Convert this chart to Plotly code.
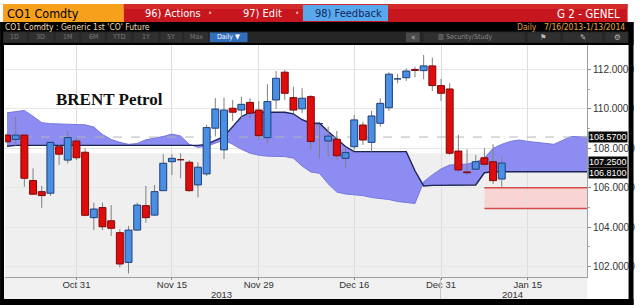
import plotly.graph_objects as go

# ---------------- data ----------------
dates = [
    "2013-10-21", "2013-10-22", "2013-10-23", "2013-10-24", "2013-10-25", "2013-10-28", "2013-10-29",
    "2013-10-30", "2013-10-31", "2013-11-01", "2013-11-04", "2013-11-05", "2013-11-06", "2013-11-07",
    "2013-11-08", "2013-11-11", "2013-11-12", "2013-11-13", "2013-11-14", "2013-11-15", "2013-11-18",
    "2013-11-19", "2013-11-20", "2013-11-21", "2013-11-22", "2013-11-25", "2013-11-26", "2013-11-27",
    "2013-11-28", "2013-11-29", "2013-12-02", "2013-12-03", "2013-12-04", "2013-12-05", "2013-12-06",
    "2013-12-09", "2013-12-10", "2013-12-11", "2013-12-12", "2013-12-13", "2013-12-16", "2013-12-17",
    "2013-12-18", "2013-12-19", "2013-12-20", "2013-12-23", "2013-12-24", "2013-12-26", "2013-12-27",
    "2013-12-30", "2013-12-31", "2014-01-02", "2014-01-03", "2014-01-06", "2014-01-07", "2014-01-08",
    "2014-01-09", "2014-01-10",
    # projected cloud periods
    "2014-01-13", "2014-01-14", "2014-01-15", "2014-01-16", "2014-01-17", "2014-01-20", "2014-01-21",
    "2014-01-22", "2014-01-23", "2014-01-24",
]
n_candles = 58

opens = [108.67, 108.45, 108.67, 106.36, 105.80, 105.72, 108.08, 107.40, 108.37, 107.80,
         104.48, 104.99, 104.32, 103.72, 102.21, 103.85, 105.09, 104.61, 105.85, 107.32,
         107.45, 107.29, 106.14, 106.70, 109.02, 107.92, 110.03, 109.94, 110.33, 109.94,
         108.54, 110.45, 111.86, 110.57, 110.00, 110.62, 109.25, 108.37, 108.46, 107.49,
         108.08, 109.18, 108.30, 109.27, 110.06, 111.52, 111.58, 112.00, 111.94, 112.18,
         111.18, 111.01, 107.86, 106.80, 106.94, 107.52, 107.32, 106.44]
highs = [108.75, 109.60, 108.72, 106.98, 106.09, 108.37, 108.20, 108.88, 108.54, 108.00,
         105.24, 105.24, 105.12, 103.89, 104.06, 105.24, 106.09, 106.14, 107.70, 107.70,
         107.75, 107.40, 107.30, 109.20, 110.55, 110.57, 110.45, 110.62, 110.54, 110.40,
         111.25, 111.92, 111.97, 111.13, 111.05, 110.70, 109.35, 109.10, 108.88, 108.00,
         109.69, 109.35, 109.90, 110.54, 111.86, 111.77, 112.06, 112.14, 112.74, 112.60,
         111.52, 111.30, 108.68, 107.95, 107.66, 108.00, 108.20, 107.57]
lows = [108.25, 108.10, 106.05, 105.63, 104.98, 105.58, 107.15, 107.24, 107.40, 104.55,
        103.85, 103.85, 103.55, 101.96, 101.65, 103.82, 104.22, 104.56, 105.85, 106.64,
        106.48, 105.80, 105.51, 106.60, 108.60, 107.46, 109.38, 109.52, 109.52, 108.42,
        108.25, 110.00, 110.45, 109.78, 109.78, 107.92, 107.49, 107.57, 107.41, 106.98,
        107.92, 108.17, 107.83, 109.10, 109.90, 111.30, 111.42, 111.60, 111.50, 110.90,
        110.40, 107.66, 106.81, 106.64, 106.90, 107.07, 106.19, 106.05]
closes = [108.33, 108.67, 106.48, 105.67, 105.60, 108.30, 107.70, 108.54, 107.52, 104.60,
          104.92, 104.02, 103.94, 102.13, 103.85, 105.12, 104.48, 105.80, 107.24, 107.49,
          107.42, 105.85, 107.04, 109.05, 109.99, 109.94, 109.83, 110.23, 109.78, 108.64,
          110.37, 111.55, 110.79, 109.94, 110.54, 108.34, 109.25, 108.62, 107.62, 107.78,
          109.44, 108.42, 109.64, 110.28, 111.76, 111.55, 111.92, 111.95, 112.18, 111.18,
          110.79, 107.75, 106.90, 106.76, 107.32, 107.19, 106.36, 107.25]

# Ichimoku cloud spans (projected forward)
span_a = [109.80, 109.85, 109.92, 109.62, 109.30, 109.25, 109.23, 109.22, 109.20, 109.19,
          109.08, 108.70, 108.45, 108.30, 108.20, 108.24, 108.43, 108.50, 108.60, 108.72,
          108.62, 108.20, 108.05, 108.10, 108.28, 108.42, 108.20, 107.95, 107.75, 107.65,
          107.60, 107.60, 107.58, 107.50, 107.10, 106.80, 106.73, 106.20, 105.78, 105.68,
          105.64, 105.60, 105.50, 105.45, 105.40, 105.30, 105.25, 105.20, 106.30, 106.65,
          106.95, 107.15, 107.18, 107.20, 107.30, 107.50, 108.00, 108.20, 108.35, 108.42,
          108.35, 108.30, 108.25, 108.20, 108.40, 108.60, 108.58, 108.57]
span_b = [108.10, 108.15, 108.15, 108.15, 108.15, 108.15, 108.15, 108.15, 108.15, 108.15,
          108.15, 108.15, 108.15, 108.15, 108.15, 108.15, 108.15, 108.15, 108.15, 108.15,
          108.15, 108.15, 108.15, 108.20, 108.40, 108.60, 109.10, 109.60, 109.83, 109.83,
          109.83, 109.83, 109.83, 109.75, 109.45, 109.27, 109.27, 108.85, 108.47, 108.09,
          107.83, 107.83, 107.83, 107.83, 107.83, 107.83, 107.83, 106.86, 106.09, 106.12,
          106.12, 106.12, 106.12, 106.13, 106.14, 106.76, 106.81, 106.81, 106.81, 106.81,
          106.81, 106.81, 106.81, 106.81, 106.81, 106.81, 106.81, 106.81]

x_tick_dates = ["2013-10-31", "2013-11-15", "2013-11-29", "2013-12-16", "2013-12-31", "2014-01-15"]
x_tick_text = ["Oct 31", "Nov 15", "Nov 29", "Dec 16", "Dec 31", "Jan 15"]
y_ticks = [102, 104, 106, 108, 110, 112]
y_tick_text = ["102.0000", "104.0000", "106.0000", "108.0000", "110.0000", "112.0000"]
y_minor = [103, 105, 107, 109, 111]
year_labels = ["2013", "2014"]

ref_level = 108.57
tag_values = [108.57, 107.25, 106.81]
tag_text = ["108.5700", "107.2500", "106.8100"]
zone_top, zone_bottom = 106.00, 104.95
zone_start = "2014-01-08"
shade_level = 107.75

# ---------------- geometry ----------------
W, H = 640, 305
L, R, T, B = 5, 593, 45, 277
X_RANGE = [-0.23, 66.82]
Y_RANGE = [101.47, 113.24]
HALF = 0.4  # half body width in trading-day units


def px(x):
    return (x - L) / (R - L)


def py(y):
    return (B - y) / (B - T)


COND = "DejaVu Sans Condensed, Liberation Sans Narrow, Arial Narrow, sans-serif"
SANS = "Liberation Sans, Arial, sans-serif"

# trading-day position of every date (weekends / holidays removed)
pos = {d: i for i, d in enumerate(dates)}
xs = [pos[d] for d in dates]
cx = xs[:n_candles]

wx, wy = [], []
for x, lo, hi in zip(cx, lows, highs):
    wx += [x, x, None]
    wy += [lo, hi, None]


def bodies(sel):
    bx, by = [], []
    for x, o, c in zip(cx, opens, closes):
        if sel(o, c):
            lo, hi = min(o, c), max(o, c)
            bx += [x - HALF, x + HALF, x + HALF, x - HALF, x - HALF, None]
            by += [lo, lo, hi, hi, lo, None]
    return bx, by


fig = go.Figure()

# cloud
fig.add_trace(go.Scatter(x=xs, y=span_a, mode="lines",
                         line=dict(color="rgb(118,118,222)", width=1), hoverinfo="skip"))
fig.add_trace(go.Scatter(x=xs, y=span_b, mode="lines", fill="tonexty",
                         fillcolor="rgb(140,140,242)",
                         line=dict(color="#1b2452", width=1.4), hoverinfo="skip"))
# reference dashed level
fig.add_trace(go.Scatter(x=[X_RANGE[0], X_RANGE[1]], y=[ref_level, ref_level], mode="lines",
                         line=dict(color="#b5b5b5", width=1, dash="dash"), hoverinfo="skip"))
# wicks
fig.add_trace(go.Scatter(x=wx, y=wy, mode="lines", line=dict(color="#808080", width=1),
                         hoverinfo="skip"))
# candle bodies
ux, uy = bodies(lambda o, c: c >= o)
dx, dy = bodies(lambda o, c: c < o)
fig.add_trace(go.Scatter(x=ux, y=uy, mode="lines", fill="toself", fillcolor="#4a8fe3",
                         line=dict(color="#1f3f7a", width=1), hoverinfo="skip"))
fig.add_trace(go.Scatter(x=dx, y=dy, mode="lines", fill="toself", fillcolor="#e00b0b",
                         line=dict(color="#7d0a0a", width=1), hoverinfo="skip"))

shapes = []
# lower grey shading of plot area
shapes.append(dict(type="rect", xref="x", yref="y", x0=-5, x1=80, y0=Y_RANGE[0], y1=shade_level,
                   fillcolor="#efefef", line=dict(width=0), layer="below"))
# target zone
zi = pos[zone_start]
shapes.append(dict(type="rect", xref="x", yref="y", x0=zi, x1=X_RANGE[1], y0=zone_bottom, y1=zone_top,
                   fillcolor="#f8d4d4", line=dict(width=0), layer="below"))
for lvl in (zone_top, zone_bottom):
    shapes.append(dict(type="line", xref="x", yref="y", x0=zi, x1=X_RANGE[1], y0=lvl, y1=lvl,
                       line=dict(color="#d24a4a", width=1.5)))

# bottom label strip
shapes.append(dict(type="rect", xref="paper", yref="paper", x0=px(4), x1=px(R), y0=py(299), y1=py(B),
                   fillcolor="#f0f0f0", line=dict(width=0), layer="below"))


def prect(x0, y0, x1, y1, color):
    shapes.append(dict(type="rect", xref="paper", yref="paper", x0=px(x0), x1=px(x1),
                       y0=py(y1), y1=py(y0), fillcolor=color, line=dict(width=0), layer="above"))


# header
prect(0, 22, 640, 45, "#000000")
prect(3, 4, 125, 22, "#f6a01c")
prect(125, 4, 634, 22, "#c8161e")
prect(125, 4, 634, 9, "#d42a2a")
prect(306, 5, 392, 21, "#5aa8ec")
prect(3, 31.5, 636, 43, "#262626")
for xa, xb in [(4, 27), (29, 54), (56, 80), (82, 106), (108, 133), (135, 160), (162, 184), (186, 210)]:
    prect(xa, 32.5, xb, 42, "#303030")
prect(212, 32.5, 250, 42, "#2f6fbd")
prect(410, 32.5, 424, 42, "#4a4a4a")
prect(428, 32.5, 530, 42, "#303030")
prect(533, 32.5, 566, 42, "#303030")
prect(569, 32.5, 608, 42, "#303030")
prect(611, 32.5, 634, 42, "#303030")
# frame
prect(0, 43, 4, 305, "#000000")
prect(635, 22, 640, 305, "#000000")
prect(0, 299, 640, 305, "#000000")
# year separator
shapes.append(dict(type="line", xref="paper", yref="paper", x0=px(445), x1=px(445), y0=py(299), y1=py(B),
                   line=dict(color="#c8c8c8", width=1)))

ann = []


def text(t, x, y, size, color, anchor="left", family=COND):
    ann.append(dict(text=t, xref="paper", yref="paper", x=px(x), y=py(y), xanchor=anchor,
                    yanchor="middle", showarrow=False, font=dict(family=family, size=size, color=color)))


text("CO1 Comdty", 5, 13.5, 12.5, "#000000")
text("96) Actions", 144, 13.5, 11, "#ffffff")
text("•", 212, 13.5, 8, "#f0b0a0", "center")
text("97) Edit", 243, 13.5, 11, "#ffffff")
text("•", 300, 13.5, 8, "#f0b0a0", "center")
text("98) Feedback", 316, 13.5, 11, "#0f2a5e")
text("G 2 - GENEL", 628, 13.5, 11.5, "#ffffff", "right")
text("CO1 Comdty : Generic 1st 'CO' Future", 3, 27, 8.5, "#f0dcb4")
text("Daily", 544, 27, 8.5, "#e0953a", "right")
text("7/16/2013-1/13/2014", 633, 27, 8.5, "#f0a640", "right")
for lab, xc in zip(["1D", "3D", "1M", "6M", "YTD", "1Y", "5Y", "Max"],
                   [15, 41, 68, 94, 120, 147, 173, 198]):
    text(lab, xc, 37.5, 7, "#7a7a7a", "center")
text("Daily ▼", 231, 37.5, 7, "#ffffff", "center")
text("«", 417, 37.5, 8, "#bbbbbb", "center")
text("▥ Security/Study", 440, 37.5, 7, "#8a8a8a")
text("⚑", 549, 37.5, 8, "#bbbbbb", "center")
text("✎", 589, 37.5, 8, "#bbbbbb", "center")
text("⚙", 623, 37.5, 8, "#bbbbbb", "center")

# chart title
ann.append(dict(text="<b>BRENT Petrol</b>", xref="paper", yref="paper", x=px(111), y=py(99),
                xanchor="center", yanchor="middle", showarrow=False,
                font=dict(family="Liberation Serif, Times New Roman, serif", size=17, color="#111111")))

# year labels
for lab, xc in zip(year_labels, [224, 518]):
    ann.append(dict(text=lab, xref="paper", yref="paper", x=px(xc), y=py(294.5), xanchor="center",
                    yanchor="middle", showarrow=False, font=dict(family=SANS, size=9.5, color="#333333")))

# value tags on the right axis
for v, t, ys in zip(tag_values, tag_text, [0, 1, -1]):
    ann.append(dict(text=t, xref="paper", yref="y", x=1.0, y=v, xanchor="left", yanchor="middle",
                    xshift=1, yshift=ys, showarrow=False, bgcolor="#0a0a0a", borderpad=0,
                    font=dict(family=SANS, size=9, color="#ffffff")))

fig.update_layout(
    width=W, height=H,
    margin=dict(l=L, r=W - R, t=T, b=H - B),
    paper_bgcolor="#ffffff", plot_bgcolor="#ffffff",
    showlegend=False,
    shapes=shapes, annotations=ann,
    xaxis=dict(type="linear", range=X_RANGE,
               tickmode="array", tickvals=[pos[d] for d in x_tick_dates], ticktext=x_tick_text,
               ticks="outside", ticklen=2, tickcolor="#888888", ticklabelstandoff=-3,
               showgrid=True, gridcolor="#dddddd", gridwidth=1,
               showline=True, linecolor="#a0a0a0", zeroline=False,
               tickfont=dict(family=SANS, size=9.5, color="#333333"), fixedrange=True),
    yaxis=dict(side="right", range=Y_RANGE, tickmode="array", tickvals=y_ticks, ticktext=y_tick_text,
               ticks="outside", ticklen=3, tickcolor="#888888",
               minor=dict(tickmode="array", tickvals=y_minor, ticks="outside", ticklen=2,
                          tickcolor="#aaaaaa", showgrid=False),
               showgrid=True, gridcolor="#e6e6e6", gridwidth=1,
               showline=True, linecolor="#a0a0a0", zeroline=False,
               tickfont=dict(family=SANS, size=10, color="#333333"), fixedrange=True),
)

fig.write_html("out.html")
